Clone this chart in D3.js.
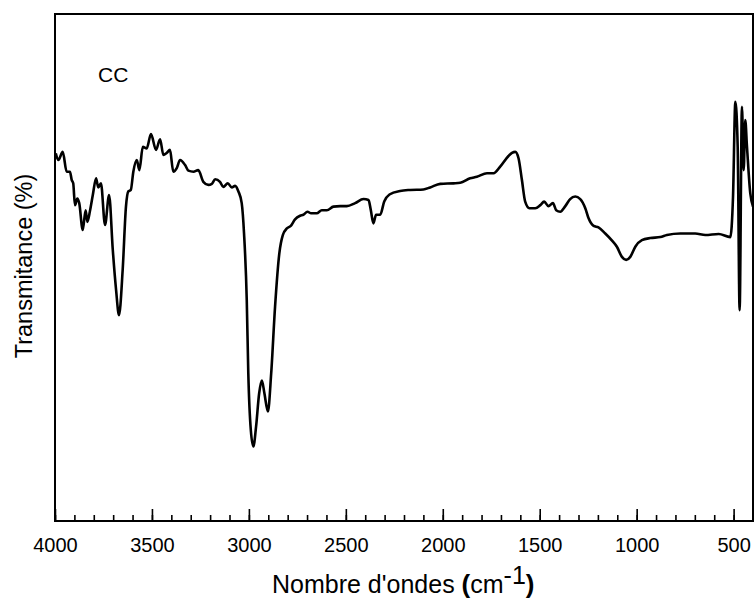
<!DOCTYPE html>
<html>
<head>
<meta charset="utf-8">
<script src="https://cdn.jsdelivr.net/npm/d3@7"></script>
<style>
    body { margin: 0; background: #fff; }
    svg { display: block; font-family: "Liberation Sans", Arial, sans-serif; }
</style>
</head>
<body>
<div id="chart"></div>
<script>
// FTIR spectrum, sample CC
var wavenumbers = [3996, 3983, 3960, 3940, 3923, 3914, 3906, 3897, 3885, 3875,
    3857, 3842, 3833, 3819, 3805, 3788, 3777, 3763, 3742, 3721,
    3702, 3685, 3670, 3651, 3634, 3622, 3609, 3596, 3578, 3565,
    3547, 3527, 3505, 3479, 3458, 3441, 3424, 3407, 3390, 3372,
    3355, 3329, 3312, 3286, 3261, 3235, 3209, 3191, 3174, 3149,
    3132, 3109, 3088, 3071, 3054, 3037, 3025, 3011, 3003, 2990,
    2977, 2963, 2947, 2933, 2920, 2902, 2885, 2865, 2843, 2825,
    2804, 2784, 2762, 2736, 2719, 2698, 2679, 2650, 2624, 2598,
    2564, 2529, 2495, 2452, 2409, 2383, 2371, 2358, 2344, 2323,
    2302, 2275, 2220, 2168, 2100, 2065, 2013, 1945, 1910, 1859,
    1824, 1772, 1738, 1704, 1661, 1643, 1626, 1609, 1592, 1575,
    1553, 1523, 1497, 1477, 1455, 1432, 1415, 1394, 1368, 1343,
    1317, 1291, 1265, 1248, 1222, 1197, 1162, 1127, 1102, 1076,
    1054, 1033, 1007, 973, 930, 878, 844, 775, 698, 646,
    577, 517, 503, 491, 479, 469, 457, 448, 440, 431,
    414, 400];
var transmittance = [72.5, 71.2, 72.8, 68.9, 68.9, 67.3, 66.6, 62.3, 63.6, 62.7,
    57.4, 61.3, 59.0, 61.3, 64.3, 67.6, 65.8, 66.6, 58.4, 64.3,
    53.5, 45.6, 40.6, 49.5, 62.0, 65.0, 65.3, 68.9, 71.2, 69.2,
    73.8, 73.5, 76.3, 73.2, 75.3, 72.2, 72.6, 73.2, 68.9, 69.6,
    71.2, 70.2, 69.1, 68.9, 69.2, 66.9, 66.3, 66.5, 67.4, 66.9,
    65.9, 66.6, 65.8, 66.1, 65.0, 62.7, 56.7, 43.6, 29.1, 17.9,
    14.7, 18.6, 25.2, 27.7, 25.2, 21.6, 29.1, 42.3, 52.8, 56.4,
    57.7, 58.2, 59.5, 60.2, 60.4, 61.0, 60.7, 60.7, 61.3, 61.3,
    62.0, 62.1, 62.1, 62.7, 63.5, 63.3, 61.3, 58.7, 60.4, 60.4,
    63.0, 64.4, 65.1, 65.3, 65.4, 65.8, 66.5, 66.6, 66.7, 67.6,
    67.9, 68.6, 68.6, 69.9, 72.0, 72.6, 72.8, 71.5, 67.3, 63.0,
    61.7, 61.7, 62.3, 63.0, 62.1, 62.7, 61.3, 61.0, 62.1, 63.5,
    64.0, 63.5, 61.7, 59.7, 58.2, 57.9, 56.7, 55.3, 54.1, 52.1,
    51.5, 52.1, 54.1, 55.4, 55.8, 56.0, 56.4, 56.7, 56.7, 56.4,
    56.6, 56.0, 64.0, 82.7, 73.8, 41.6, 81.7, 69.2, 79.1, 73.8,
    64.6, 62.0];

var xTicks = [4000, 3500, 3000, 2500, 2000, 1500, 1000, 500];
var xMinorTicks = d3.range(4000, 400, -100);
var sampleLabel = 'CC';

var width = 754,
    height = 602,
    margin = { top: 14, right: 1, bottom: 81, left: 55 };

var svg = d3.select('#chart').append('svg')
    .attr('width', width)
    .attr('height', height);

var x = d3.scaleLinear().domain([4000, 400])
    .range([margin.left, width - margin.right]);
var y = d3.scaleLinear().domain([0, 100])
    .range([height - margin.bottom, margin.top]);

var points = wavenumbers.map((w, i) => [w, transmittance[i]]);

svg.append('defs').append('clipPath').attr('id', 'clip')
    .append('rect')
    .attr('x', margin.left).attr('y', margin.top)
    .attr('width', width - margin.left - margin.right)
    .attr('height', height - margin.top - margin.bottom);

var line = d3.line()
    .x(d => x(d[0]))
    .y(d => y(d[1]))
    .curve(d3.curveMonotoneX);

svg.append('path')
    .datum(points)
    .attr('clip-path', 'url(#clip)')
    .attr('fill', 'none')
    .attr('stroke', '#000')
    .attr('stroke-width', 2.6)
    .attr('stroke-linejoin', 'round')
    .attr('d', line);

// minor ticks, pointing inward
svg.append('g')
    .attr('transform', `translate(0,${height - margin.bottom})`)
    .call(d3.axisBottom(x).tickValues(xMinorTicks).tickSize(-6).tickFormat(''))
    .call(g => g.select('.domain').remove())
    .call(g => g.selectAll('line').attr('stroke-width', 1.6));

// major ticks + labels
svg.append('g')
    .attr('transform', `translate(0,${height - margin.bottom})`)
    .call(d3.axisBottom(x).tickValues(xTicks).tickFormat(d3.format('d'))
        .tickSizeInner(-12).tickSizeOuter(0).tickPadding(17))
    .call(g => g.select('.domain').remove())
    .call(g => g.selectAll('line').attr('stroke-width', 1.6))
    .call(g => g.selectAll('text')
        .attr('font-size', 20)
        .attr('font-family', '"Liberation Sans", Arial, sans-serif')
        .attr('fill', '#000'));

// frame
svg.append('rect')
    .attr('x', margin.left)
    .attr('y', margin.top)
    .attr('width', width - margin.left - margin.right)
    .attr('height', height - margin.top - margin.bottom)
    .attr('fill', 'none')
    .attr('stroke', '#000')
    .attr('stroke-width', 2);

svg.append('text')
    .attr('x', 98)
    .attr('y', 82)
    .attr('font-size', 21)
    .text(sampleLabel);

var title = svg.append('text')
    .attr('x', 272)
    .attr('y', 593)
    .attr('font-size', 25);
title.append('tspan').text("Nombre d'ondes ");
title.append('tspan').attr('font-weight', 'bold').attr('font-size', 26).text('(');
title.append('tspan').text('cm');
title.append('tspan').attr('dy', -9).text('-1');
title.append('tspan').attr('dy', 9).attr('font-weight', 'bold').attr('font-size', 26).text(')');

svg.append('text')
    .attr('transform', 'translate(32,266) rotate(-90)')
    .attr('text-anchor', 'middle')
    .attr('font-size', 23.5)
    .text('Transmitance (%)');
</script>
</body>
</html>
